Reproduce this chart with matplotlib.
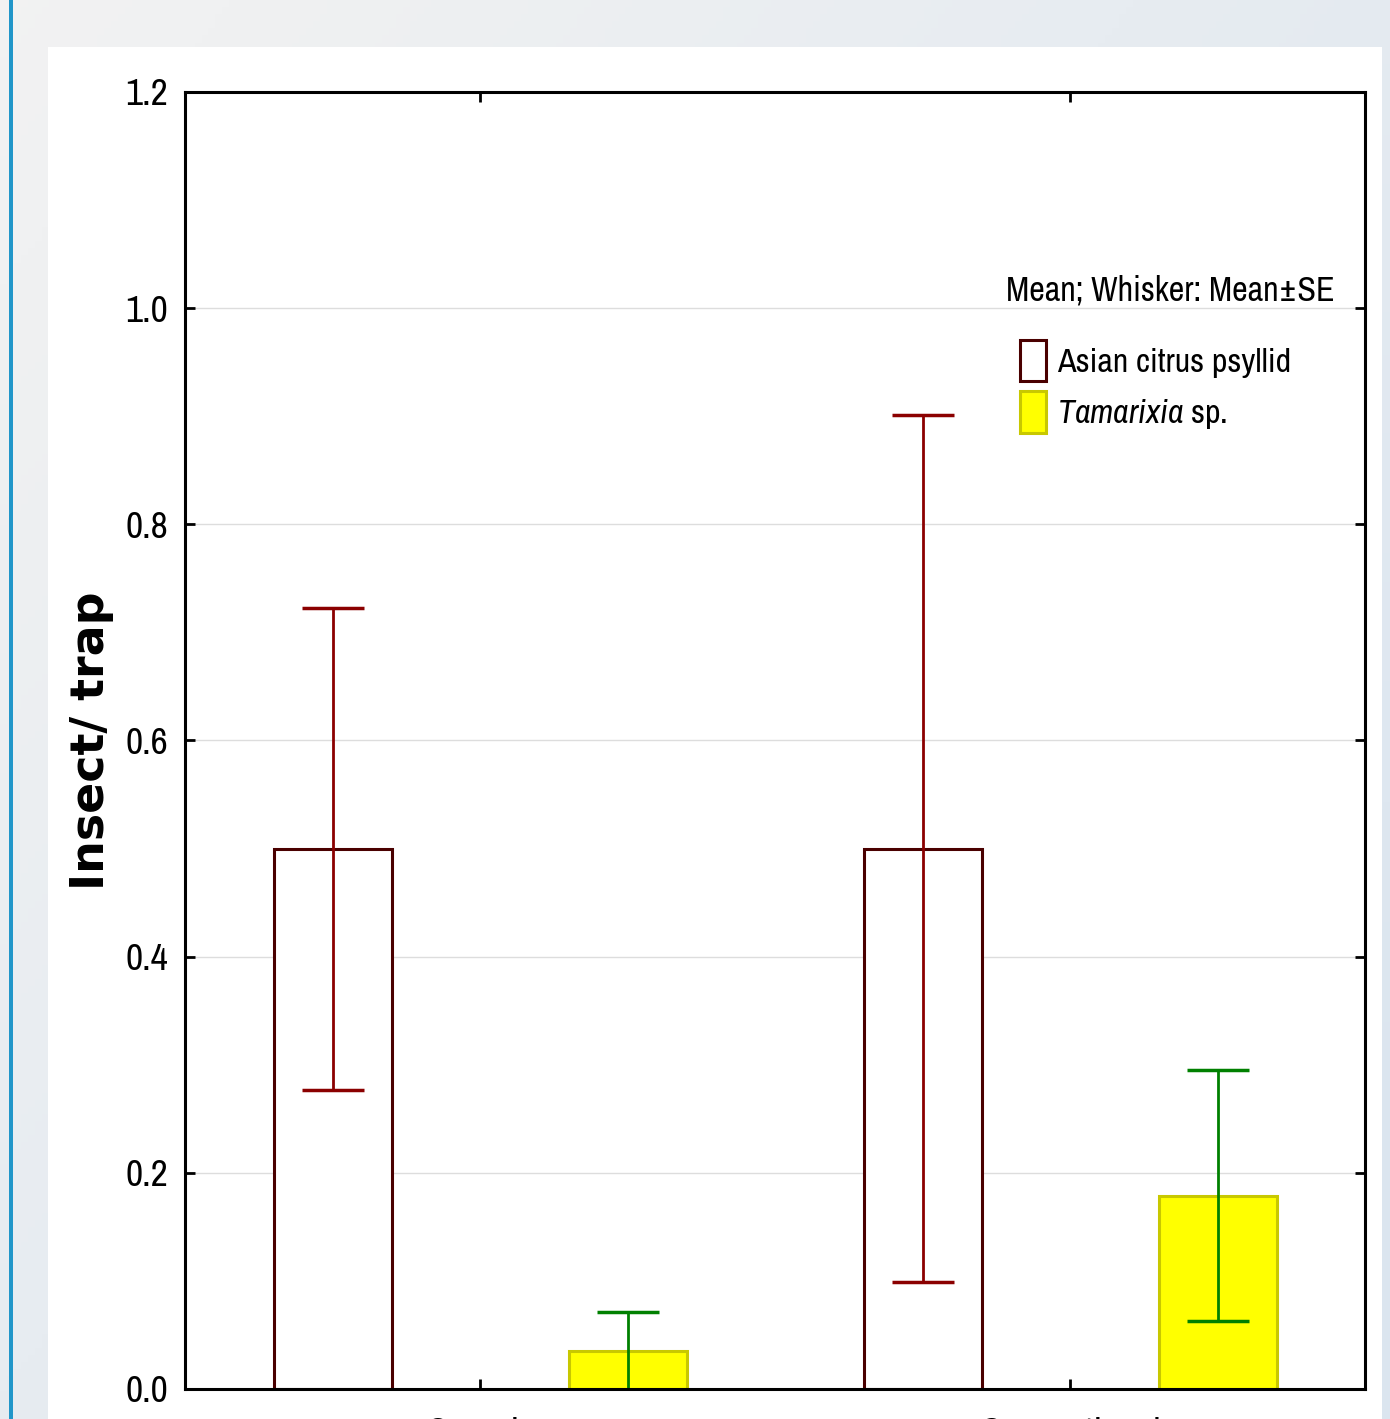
import numpy as np
import matplotlib
matplotlib.use("Agg")
import matplotlib.pyplot as plt
from matplotlib.patches import Patch, Rectangle

plt.rcParams['font.family'] = ['Archivo Narrow', 'DejaVu Sans']
plt.rcParams['mathtext.fontset'] = 'custom'
plt.rcParams['mathtext.it'] = 'Archivo Narrow:italic'
plt.rcParams['mathtext.rm'] = 'Archivo Narrow'

# data
categorias = ["Organic", "Conventional"]
acp_media = [0.50, 0.50]
acp_se = [0.223, 0.401]
tam_media = [0.035, 0.179]
tam_se = [0.036, 0.116]
yticks = [0.0, 0.2, 0.4, 0.6, 0.8, 1.0, 1.2]

fig = plt.figure(figsize=(13.9, 14.19), dpi=100)

# fondo degradado
bg = fig.add_axes([0, 0, 1, 1], zorder=-5)
gx = np.linspace(0, 1, 200)
gy = np.linspace(0, 1, 200)
GX, GY = np.meshgrid(gx, gy)
t = np.clip(0.6 * GX + 0.5 * GY, 0, 1)
c0 = np.array([0.95, 0.95, 0.95])
c1 = np.array([0.86, 0.90, 0.94])
img = c0[None, None, :] * (1 - t[..., None]) + c1[None, None, :] * t[..., None]
bg.imshow(img, extent=[0, 1, 0, 1], aspect='auto', origin='upper')
bg.add_patch(Rectangle((48 / 1390, 0), (1382 - 48) / 1390, 1 - 47 / 1419,
                       facecolor='white', edgecolor='none'))
bg.add_patch(Rectangle((9 / 1390, 0), 4 / 1390, 1, facecolor='#2196c9', edgecolor='none'))
bg.set_xlim(0, 1)
bg.set_ylim(0, 1)
bg.axis('off')

ax = fig.add_axes([185 / 1390, 1 - 1389 / 1419, 1180 / 1390, 1297 / 1419])
ax.set_facecolor('white')

x = np.arange(len(categorias))
ancho = 0.2
ax.bar(x - 0.25, acp_media, ancho, facecolor='white', edgecolor='#4a0000', linewidth=2.2, zorder=3)
ax.bar(x + 0.25, tam_media, ancho, facecolor='#ffff00', edgecolor='#c8c800', linewidth=2.2, zorder=3)
ax.errorbar(x - 0.25, acp_media, yerr=acp_se, fmt='none', ecolor='#8b0000',
            elinewidth=2, capsize=22, capthick=2.5, zorder=4)
ax.errorbar(x + 0.25, tam_media, yerr=tam_se, fmt='none', ecolor='#008000',
            elinewidth=2, capsize=22, capthick=2.5, zorder=4)

ax.set_xlim(-0.5, 1.5)
ax.set_ylim(0, 1.2)
ax.set_yticks(yticks)
ax.set_yticklabels([f"{v:.1f}" for v in yticks])
ax.set_xticks(x)
ax.set_xticklabels(categorias)
ax.yaxis.grid(True, color='#dddddd', linewidth=1, zorder=0)
ax.set_axisbelow(True)
ax.tick_params(direction='in', length=7, width=2, labelsize=27, top=True, right=True)
ax.tick_params(axis='y', pad=12)
ax.tick_params(axis='x', pad=20)
for s in ax.spines.values():
    s.set_linewidth(2.2)
    s.set_zorder(5)

ax.set_ylabel("Insect/ trap", fontsize=33, fontweight='bold', family='DejaVu Sans', labelpad=8)

ax.text(0.6958, 0.8396, "Mean; Whisker: Mean±SE", transform=ax.transAxes,
        fontsize=24.6, va='baseline', ha='left')
handles = [Patch(facecolor='white', edgecolor='#4a0000', linewidth=2.2),
           Patch(facecolor='#ffff00', edgecolor='#c8c800', linewidth=2.2)]
ax.legend(handles, ["Asian citrus psyllid", r"$\it{Tamarixia}$ sp."], loc='upper left',
          bbox_to_anchor=(0.7076, 0.809), frameon=False, fontsize=24.5, borderpad=0,
          borderaxespad=0, handlelength=0.76, handleheight=1.5, labelspacing=0.3,
          handletextpad=0.34)

plt.savefig("out.png", dpi=100)
